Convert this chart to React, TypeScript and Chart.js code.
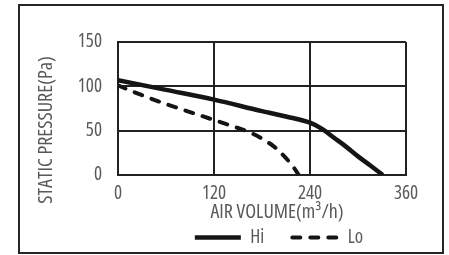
import React, { useEffect, useRef } from "react";
import { Chart, registerables } from "chart.js";

Chart.register(...registerables);

// ---- data ----
const hiAirVolume = [0, 60, 120, 180, 210, 240, 255, 270, 285, 300, 315, 331];
const hiPressure = [107, 96, 85, 72, 66, 59, 52, 42, 32, 21, 11, 0];
const loAirVolume = [0, 30, 60, 90, 120, 150, 165, 180, 195, 210, 220, 226];
const loPressure = [101, 90, 80, 71, 62, 53, 48, 41, 32, 19, 8, 0];
const xTickValues = [0, 120, 240, 360];
const yTickValues = [0, 50, 100, 150];
const seriesLabels = ["Hi", "Lo"];
const xAxisTitle = "AIR VOLUME(m³/h)";
const yAxisTitle = "STATIC PRESSURE(Pa)";

const FONT = "'Open Sans', 'DejaVu Sans Condensed', sans-serif";
const STRETCH = "condensed"; // goes into the canvas font shorthand
const TEXT = "#595959";
const INK = "#151515";
const GRID = "#222222";
const CANVAS_W = 449;
const CANVAS_H = 300;

// nudges the axis titles / legend off-centre like in the reference
const titleNudge = {
  id: "titleNudge",
  afterLayout(chart: any, _args: any, opts: any) {
    const legendDx = opts.legendDx || 0;
    const xDx = opts.xTitleDx || 0;
    const yDy = opts.yTitleDy || 0;
    const ySpan = opts.yTitleSpan || 0;
    const lg = chart.legend;
    if (lg) {
      lg.left += legendDx;
      lg.right += legendDx;
    }
    const xs = chart.scales.x;
    if (xs) {
      const proto = Object.getPrototypeOf(xs);
      xs.drawTitle = function () {
        const l = this.left, r = this.right;
        this.left += xDx;
        this.right += xDx;
        proto.drawTitle.call(this);
        this.left = l;
        this.right = r;
      };
    }
    const ys = chart.scales.y;
    if (ys) {
      const proto = Object.getPrototypeOf(ys);
      ys.drawTitle = function () {
        const t = this.top, b = this.bottom;
        this.top += yDy - ySpan;
        this.bottom += yDy + ySpan;
        proto.drawTitle.call(this);
        this.top = t;
        this.bottom = b;
      };
    }
  },
};

const font = (size: number) => ({ family: FONT, size, lineHeight: 1, weight: STRETCH });

export default function App() {
  const ref = useRef<HTMLCanvasElement | null>(null);

  useEffect(() => {
    if (!ref.current) return;
    const chart = new Chart(ref.current, {
      type: "line",
      data: {
        datasets: [
          {
            label: seriesLabels[0],
            data: hiAirVolume.map((x, i) => ({ x, y: hiPressure[i] })),
            borderColor: INK,
            backgroundColor: INK,
            borderWidth: 4.5,
            borderCapStyle: "butt",
            pointRadius: 0,
            cubicInterpolationMode: "monotone",
            fill: false,
          },
          {
            label: seriesLabels[1],
            data: loAirVolume.map((x, i) => ({ x, y: loPressure[i] })),
            borderColor: INK,
            backgroundColor: INK,
            borderWidth: 4,
            borderDash: [8, 10],
            borderCapStyle: "round",
            pointRadius: 0,
            cubicInterpolationMode: "monotone",
            fill: false,
          },
        ],
      },
      options: {
        responsive: false,
        animation: false,
        devicePixelRatio: 1,
        events: [],
        layout: { padding: { left: 36, right: 43, top: 42, bottom: 43 } },
        scales: {
          x: {
            type: "linear",
            min: xTickValues[0],
            max: xTickValues[xTickValues.length - 1],
            afterBuildTicks: (s: any) => {
              s.ticks = xTickValues.map((v) => ({ value: v }));
            },
            grid: { color: GRID, lineWidth: 2, drawTicks: false },
            border: { color: GRID, width: 2 },
            ticks: {
              color: TEXT,
              padding: 9.5,
              maxRotation: 0,
              font: font(19),
            },
            title: {
              display: true,
              text: xAxisTitle,
              color: TEXT,
              font: font(20),
              padding: { top: -10.5, bottom: -22.5 },
            },
          },
          y: {
            type: "linear",
            min: yTickValues[0],
            max: yTickValues[yTickValues.length - 1],
            afterBuildTicks: (s: any) => {
              s.ticks = yTickValues.map((v) => ({ value: v }));
            },
            afterFit: (s: any) => {
              s.width = 82;
            },
            grid: { color: GRID, lineWidth: 2, drawTicks: false },
            border: { color: GRID, width: 2 },
            ticks: {
              color: TEXT,
              padding: 16,
              font: font(19),
            },
            title: {
              display: true,
              text: yAxisTitle,
              color: TEXT,
              font: font(20),
              padding: 0,
            },
          },
        },
        plugins: {
          tooltip: { enabled: false },
          legend: {
            position: "bottom",
            fullSize: false,
            labels: {
              usePointStyle: true,
              pointStyle: "line",
              pointStyleWidth: 46,
              padding: 28,
              color: TEXT,
              font: font(19),
              generateLabels: (c: any) => {
                const items = (Chart.defaults as any).plugins.legend.labels.generateLabels(c);
                items.forEach((it: any) => {
                  const ds = c.data.datasets[it.datasetIndex];
                  it.lineDash = ds.borderDash || [];
                  it.lineCap = ds.borderCapStyle || "butt";
                  it.lineWidth = ds.borderWidth;
                  it.strokeStyle = ds.borderColor;
                });
                return items;
              },
            },
          },
          titleNudge: { legendDx: 17, xTitleDx: 15, yTitleDy: 21.5, yTitleSpan: 30 },
        } as any,
      },
      plugins: [titleNudge],
    } as any);
    return () => chart.destroy();
  }, []);

  return (
    <div
      style={{
        position: "fixed",
        left: 0,
        top: 0,
        width: CANVAS_W,
        height: 255,
        overflow: "hidden",
        background: "#ffffff",
      }}
    >
      <canvas ref={ref} width={CANVAS_W} height={CANVAS_H} style={{ display: "block" }} />
      <div
        style={{
          position: "absolute",
          left: 18,
          top: 4,
          width: 426,
          height: 250,
          boxSizing: "border-box",
          border: "2px solid #262626",
          pointerEvents: "none",
        }}
      />
    </div>
  );
}
